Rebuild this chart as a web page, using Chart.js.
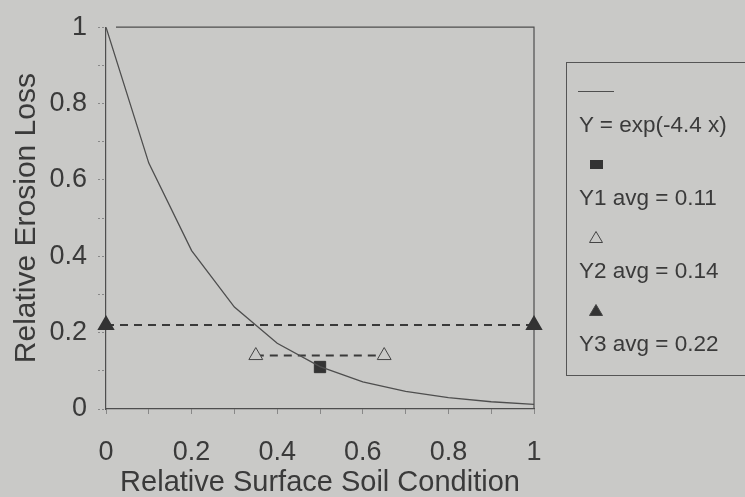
<!DOCTYPE html>
<html>
<head>
<meta charset="utf-8">
<script src="https://cdn.jsdelivr.net/npm/chart.js@4.4.0/dist/chart.umd.min.js"></script>
<style>
  body { margin: 0; background: #c9c9c7; font-family: "Liberation Sans", Arial, sans-serif; }
  #wrap { position: relative; width: 745px; height: 497px; overflow: hidden; }
  #legend { position: absolute; left: 566px; top: 62px; width: 200px; height: 314px; border: 1px solid #555; box-sizing: border-box; padding-top: 17px; }
  .sym { height: 22px; width: 36px; margin-left: 11px; display: flex; align-items: center; justify-content: center; }
  .txt { height: 26px; line-height: 26px; margin: 10px 0 15px 12px; font-size: 22.5px; color: #3a3a3a; white-space: nowrap; }
</style>
</head>
<body>
<div id="wrap">
  <canvas id="grafica" width="745" height="497"></canvas>
  <div id="legend"></div>
</div>
<script>
// curve Y = exp(-4.4 x), read at steps of 0.1
var curvaX = [0, 0.1, 0.2, 0.3, 0.4, 0.5, 0.6, 0.7, 0.8, 0.9, 1];
var curvaY = [1, 0.644, 0.415, 0.267, 0.172, 0.111, 0.071, 0.046, 0.030, 0.019, 0.012];
var y1X = [0.5];
var y1Y = [0.11];
var y2X = [0.35, 0.65];
var y2Y = [0.14, 0.14];
var y3X = [0, 1];
var y3Y = [0.22, 0.22];
var etiquetas = ['Y = exp(-4.4 x)', 'Y1 avg = 0.11', 'Y2 avg = 0.14', 'Y3 avg = 0.22'];

function puntos(xs, ys) {
    return xs.map(function (x, i) { return { x: x, y: ys[i] }; });
}

var fondo = '#c9c9c7';
var tinta = '#3a3a3a';
var linea = '#4e4e4e';

// top and right frame of the plot
const marco = {
    id: 'marco',
    beforeDatasetsDraw(chart) {
        const a = chart.chartArea;
        const c = chart.ctx;
        c.save();
        c.strokeStyle = linea;
        c.lineWidth = 1.2;
        c.beginPath();
        c.moveTo(a.left + 10, a.top);
        c.lineTo(a.right, a.top);
        c.lineTo(a.right, a.bottom);
        c.stroke();
        c.restore();
    }
};

function etiquetaTick(v) {
    var d = Math.round(v * 10);
    if (d % 2 !== 0) return '';
    return String(d / 10);
}

const ctx = document.getElementById('grafica');
const grafica = new Chart(ctx, {
    type: 'scatter',
    data: {
        datasets: [{
            label: etiquetas[0],
            data: puntos(curvaX, curvaY),
            showLine: true,
            borderColor: linea,
            borderWidth: 1.3,
            pointRadius: 0,
            tension: 0,
            simbolo: 'linea'
        }, {
            label: etiquetas[1],
            data: puntos(y1X, y1Y),
            pointStyle: 'rect',
            pointRadius: 8,
            backgroundColor: '#333',
            borderColor: '#333',
            borderWidth: 1,
            simbolo: 'cuadro'
        }, {
            label: etiquetas[2],
            data: puntos(y2X, y2Y),
            showLine: true,
            borderColor: '#3a3a3a',
            borderWidth: 2,
            borderDash: [8, 6],
            pointStyle: 'triangle',
            pointRadius: 8,
            pointBackgroundColor: fondo,
            pointBorderColor: '#444',
            pointBorderWidth: 1,
            clip: false,
            simbolo: 'hueco'
        }, {
            label: etiquetas[3],
            data: puntos(y3X, y3Y),
            showLine: true,
            borderColor: '#3a3a3a',
            borderWidth: 2,
            borderDash: [8, 6],
            pointStyle: 'triangle',
            pointRadius: 8,
            pointBackgroundColor: '#333',
            pointBorderColor: '#333',
            clip: false,
            simbolo: 'lleno'
        }]
    },
    options: {
        responsive: false,
        animation: false,
        layout: { padding: { top: 24, right: 211, left: 0, bottom: 0 } },
        plugins: { legend: { display: false }, tooltip: { enabled: false } },
        scales: {
            x: {
                type: 'linear',
                min: 0,
                max: 1,
                afterFit: function (s) { s.height = 88; },
                border: { display: true, color: linea, width: 1.2 },
                grid: { drawOnChartArea: false, drawTicks: true, tickLength: 5, color: '#888' },
                ticks: { stepSize: 0.1, autoSkip: false, maxRotation: 0, padding: 22, color: tinta,
                         font: { family: 'Liberation Sans', size: 27 }, callback: etiquetaTick },
                title: { display: true, text: 'Relative Surface Soil Condition', color: tinta,
                         font: { family: 'Liberation Sans', size: 29, lineHeight: 1 }, padding: { top: 0, bottom: 0 } }
            },
            y: {
                min: 0,
                max: 1,
                afterFit: function (s) { s.width = 106; },
                border: { display: true, color: linea, width: 1.2 },
                grid: { drawOnChartArea: false, drawTicks: true, tickLength: 8, color: '#888', tickBorderDash: [2, 2] },
                ticks: { stepSize: 0.1, autoSkip: false, padding: 11, color: tinta,
                         font: { family: 'Liberation Sans', size: 27 }, callback: etiquetaTick },
                title: { display: true, text: 'Relative Erosion Loss', color: tinta,
                         font: { family: 'Liberation Sans', size: 30 }, padding: { top: 9, bottom: 0 } }
            }
        }
    },
    plugins: [marco]
});

// legend: symbol above its label, as in the original
function simboloHTML(tipo) {
    if (tipo === 'linea') return '<div style="width:37px;border-top:1.3px solid ' + linea + '"></div>';
    if (tipo === 'cuadro') return '<div style="width:13px;height:9px;background:#333"></div>';
    var relleno = tipo === 'lleno' ? '#333' : 'none';
    return '<svg width="16" height="14"><polygon points="8,1.5 14.5,12.5 1.5,12.5" fill="' + relleno +
        '" stroke="#444" stroke-width="1"/></svg>';
}

var caja = document.getElementById('legend');
grafica.data.datasets.forEach(function (ds) {
    caja.innerHTML += '<div class="sym">' + simboloHTML(ds.simbolo) + '</div><div class="txt">' + ds.label + '</div>';
});
</script>
</body>
</html>
